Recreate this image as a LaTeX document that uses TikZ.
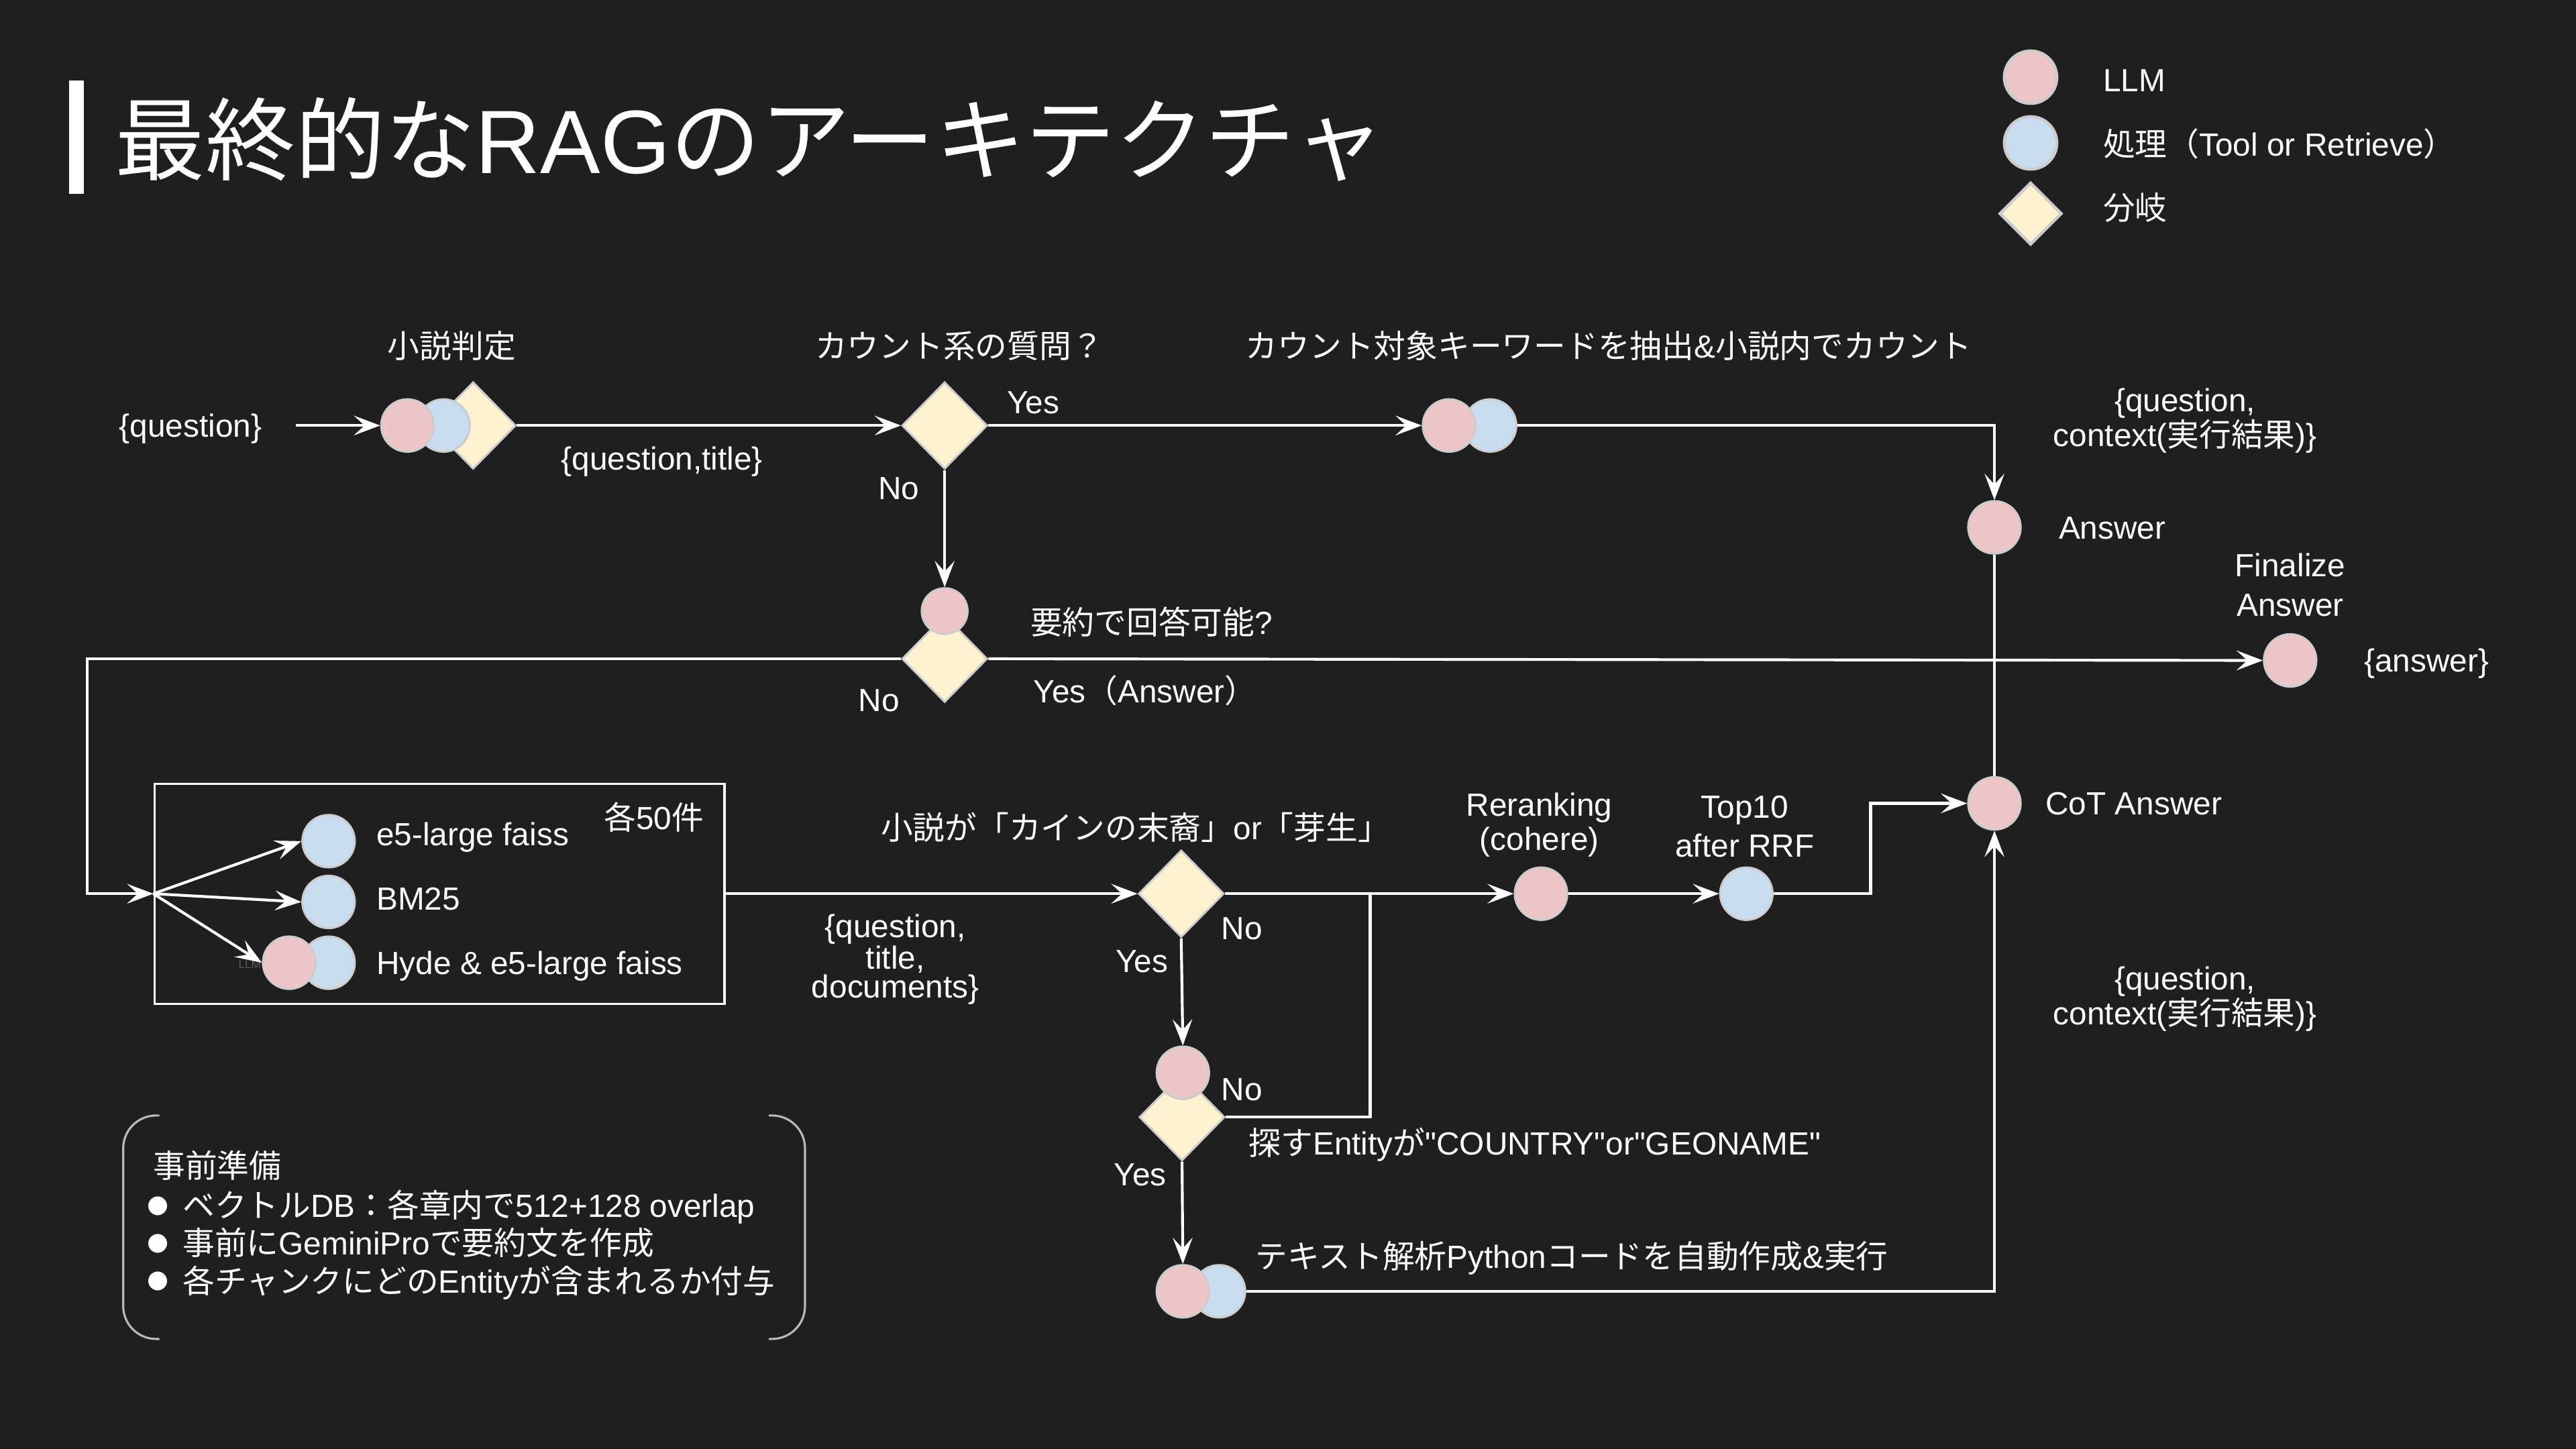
\documentclass[tikz,border=0pt]{standalone}
\usepackage{fontspec}
\setmainfont{Liberation Sans}
\newfontfamily\rawfont{Liberation Sans}
\newfontfamily\jpfont{Noto Sans CJK JP}
\newfontfamily\dotfont{DejaVu Sans}
\newcommand{\jp}[1]{{\jpfont #1}}
\usetikzlibrary{shapes.geometric,arrows.meta}

\definecolor{bg}{HTML}{1F1F1F}
\definecolor{llmfill}{HTML}{EEC6C8}
\definecolor{procfill}{HTML}{C8DEF0}
\definecolor{forkfill}{HTML}{FFF2CF}
\definecolor{rim}{HTML}{CCCCCC}
\definecolor{brk}{HTML}{B8B8B8}
\definecolor{faint}{HTML}{5A5A5A}

\begin{document}
\begin{tikzpicture}[x=1pt,y=-1pt,
  llm/.style={circle,fill=llmfill,draw=rim,line width=1.2pt,minimum size=#1,inner sep=0pt},
  llm/.default=32pt,
  proc/.style={circle,fill=procfill,draw=rim,line width=1.2pt,minimum size=#1,inner sep=0pt},
  proc/.default=32pt,
  fork/.style={diamond,fill=forkfill,draw=rim,line width=1.2pt,minimum width=52pt,minimum height=53pt,inner sep=0pt},
  edge/.style={draw=white,line width=1.7pt,-{Stealth[length=16pt,width=12pt,inset=6.5pt]}},
  plain/.style={draw=white,line width=1.7pt},
  lbl/.style={text=white,inner sep=0pt,font=\fontsize{19.5}{22}\selectfont,text height=13.8pt,text depth=0pt},
  mlbl/.style={text=white,inner sep=0pt,align=center,font=\fontsize{19.5}{#1}\selectfont},
  mlbl/.default=18pt,
  bul/.style={text=white,inner sep=0pt,font=\fontsize{15}{16}\selectfont\dotfont}
]
% canvas
\fill[bg] (0,0) rectangle (1568,882);
\useasboundingbox (0,0) rectangle (1568,882);

% heading
\fill[white] (42,49) rectangle (51,118);
\node[lbl,anchor=west,font=\fontsize{54.8}{60}\selectfont,text height=39.5pt] (title) at (70,86)
  {\jp{最終的な}RAG\jp{のアーキテクチャ}};

% key
\node[llm,line width=1.8pt] (keyL) at (1236,47) {};
\node[proc,line width=1.8pt] (keyP) at (1236,87) {};
\node[fork,line width=1.8pt,minimum width=38pt,minimum height=38pt] (keyF) at (1236,130) {};
\node[lbl,anchor=west] (keyLt) at (1280,49) {LLM};
\node[lbl,anchor=west] (keyPt) at (1280,88) {\jp{処理（}Tool or Retrieve\jp{）}};
\node[lbl,anchor=west] (keyFt) at (1280,127) {\jp{分岐}};

% ---- first row: novel check and count question
\coordinate (qsrc) at (180,259);
\node[lbl] (qIn) at (116,259) {\{question\}};
\node[fork] (sdD) at (288,259) {};
\node[proc] (sdB) at (270,259) {};
\node[llm] (sdA) at (248,259) {};
\node[lbl] (sdLbl) at (275,211) {\jp{小説判定}};

\node[fork] (cntD) at (575,259) {};
\node[lbl,anchor=west] (cntQ) at (496,211) {\jp{カウント系の質問？}};
\node[lbl] (qt) at (403,279) {\{question,title\}};
\node[lbl] (yes1) at (629,245) {Yes};
\node[lbl] (no1) at (547,297) {No};

\node[proc] (cntB) at (907,259) {};
\node[llm] (cntA) at (882,259) {};
\node[lbl,anchor=west] (cntLbl) at (758,211) {\jp{カウント対象キーワードを抽出}\&\jp{小説内でカウント}};

\node[llm] (ansA) at (1214,321) {};
\node[lbl,anchor=west] (ansLbl) at (1253,321) {Answer};
\node[mlbl] (ctx1) at (1330,256) {\{question,\\context(\jp{実行結果})\}};

% ---- summary check
\node[fork] (sumD) at (575,401) {};
\node[llm=28pt] (sumA) at (575,372) {};
\node[lbl,anchor=west] (sumQ) at (627,379) {\jp{要約で回答可能}?};
\node[lbl,anchor=west] (yesAns) at (629,421) {Yes\jp{（}Answer\jp{）}};
\node[lbl] (no2) at (535,426) {No};

\node[llm] (finA) at (1394,402) {};
\node[mlbl=24pt] (finLbl) at (1394,356) {Finalize\\Answer};
\node[lbl] (ansOut) at (1477,402) {\{answer\}};

% ---- retrieval block
\node[draw=white,line width=1.3pt,minimum width=347pt,minimum height=134pt,inner sep=0pt] (retr) at (267.5,544) {};
\coordinate (loopL) at (53,544);
\node[proc] (e5A) at (200,512) {};
\node[proc] (bmA) at (200,549) {};
\node[text=faint,inner sep=0pt,font=\fontsize{7}{8}\selectfont] (hyTag) at (152,587) {LLM};
\node[proc] (hyB) at (200,586) {};
\node[llm] (hyA) at (176,586) {};
\node[lbl,anchor=west] (e5Lbl) at (229,508) {e5-large faiss};
\node[lbl,anchor=west] (bmLbl) at (229,547) {BM25};
\node[lbl,anchor=west] (hyLbl) at (229,586) {Hyde \& e5-large faiss};
\node[lbl] (per50) at (398,498) {\jp{各}50\jp{件}};

\node[mlbl=17.7pt] (docs) at (545,584) {\{question,\\title,\\documents\}};

% ---- novel title check, rerank
\node[fork] (novD) at (719,544) {};
\node[lbl,anchor=west] (novQ) at (536,504) {\jp{小説が「カインの末裔」}or\jp{「芽生」}};
\node[lbl] (no3) at (756,565) {No};
\node[lbl] (yes3) at (695,585) {Yes};

\node[llm] (rrA) at (938,544) {};
\node[mlbl=21pt] (rrLbl) at (937,502) {Reranking\\(cohere)};
\node[proc] (topB) at (1063,544) {};
\node[mlbl=23.5pt] (topLbl) at (1062,503) {Top10\\after RRF};

\node[llm] (cotA) at (1214,489) {};
\node[lbl,anchor=west] (cotLbl) at (1245,489) {CoT Answer};
\node[mlbl=18.5pt] (ctx2) at (1330,608) {\{question,\\context(\jp{実行結果})\}};

% ---- entity check and generated code
\node[fork] (entD) at (719.5,680) {};
\node[llm] (entA) at (720,653) {};
\coordinate (join) at (834,544);
\node[lbl,anchor=west] (entQ) at (760,696) {\jp{探す}Entity\jp{が}{\rawfont "COUNTRY"or"GEONAME"}};
\node[lbl] (no4) at (756,663) {No};
\node[lbl] (yes4) at (694,715) {Yes};

\node[proc] (pyB) at (742,786) {};
\node[llm] (pyA) at (720,786) {};
\node[lbl,anchor=west] (pyLbl) at (764,765) {\jp{テキスト解析}Python\jp{コードを自動作成}\&\jp{実行}};

% ---- preparation note
\draw[brk,line width=1.3pt,rounded corners=20pt] (97,679) -- (75,679) -- (75,815) -- (97,815);
\draw[brk,line width=1.3pt,rounded corners=20pt] (468,679) -- (490,679) -- (490,815) -- (468,815);
\node[lbl,anchor=west] (prepT) at (93,710) {\jp{事前準備}};
\node[bul] (b1) at (96,734) {●};
\node[bul] (b2) at (96,757) {●};
\node[bul] (b3) at (96,780) {●};
\node[lbl,anchor=west] (p1) at (111,734) {\jp{ベクトル}DB\jp{：各章内で}512+128 overlap};
\node[lbl,anchor=west] (p2) at (111,757) {\jp{事前に}GeminiPro\jp{で要約文を作成}};
\node[lbl,anchor=west] (p3) at (111,780) {\jp{各チャンクにどの}Entity\jp{が含まれるか付与}};

% ---- connectors
\draw[edge] (qsrc) -- (sdA.west);
\draw[edge] (sdD.east) -- (cntD.west);
\draw[edge] (cntD.east) -- (cntA.west);
\draw[edge] (cntB.east) -| (ansA.north);
\draw[edge] (cntD.south) -- (sumA.north);
\draw[edge] (sumD.east) -- (finA.west);
\draw[edge] (sumD.west) -| (loopL) -- (retr.west);
\draw[edge] (retr.west) -- (e5A.west);
\draw[edge] (retr.west) -- (bmA.west);
\draw[edge] (retr.west) -- (hyA.west);
\draw[edge] (retr.east) -- (novD.west);
\draw[edge] (novD.east) -- (rrA.west);
\draw[edge] (rrA.east) -- (topB.west);
\draw[edge] (topB.east) -- ++(59,0) |- (cotA.west);
\draw[plain] (ansA.south) -- (cotA.north);
\draw[edge] (novD.south) -- (entA.north);
\draw[plain] (entD.east) -| (join);
\draw[edge] (entD.south) -- (pyA.north);
\draw[edge] (pyB.east) -| (cotA.south);
\end{tikzpicture}
\end{document}
